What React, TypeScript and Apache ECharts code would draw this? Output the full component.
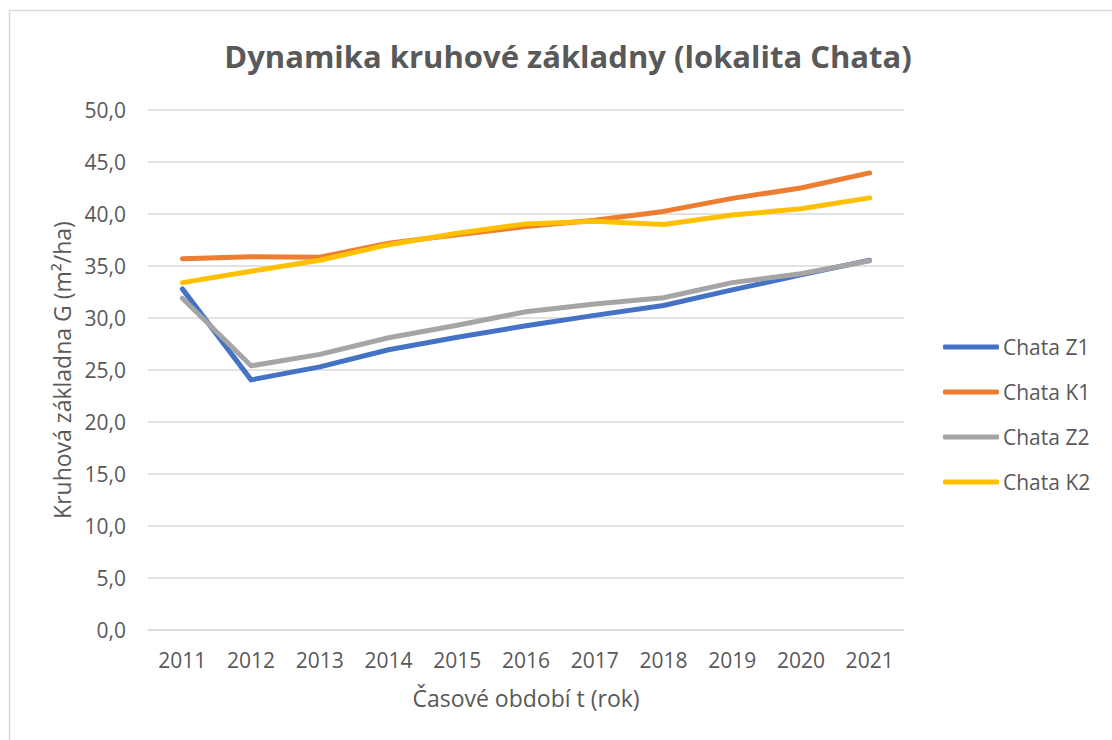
import React, { useEffect, useRef } from "react";
import * as echarts from "echarts";

const years = ["2011", "2012", "2013", "2014", "2015", "2016", "2017", "2018", "2019", "2020", "2021"];
const chataZ1 = [32.8, 24.05, 25.3, 26.95, 28.15, 29.25, 30.25, 31.2, 32.7, 34.15, 35.55];
const chataK1 = [35.7, 35.9, 35.85, 37.2, 38.0, 38.8, 39.4, 40.25, 41.5, 42.5, 43.95];
const chataZ2 = [31.9, 25.4, 26.5, 28.1, 29.3, 30.6, 31.35, 31.95, 33.4, 34.25, 35.5];
const chataK2 = [33.4, 34.5, 35.55, 37.05, 38.15, 39.05, 39.3, 39.0, 39.9, 40.5, 41.55];

const seriesNames = ["Chata Z1", "Chata K1", "Chata Z2", "Chata K2"];
const seriesColors = ["#4472C4", "#ED7D31", "#A5A5A5", "#FFC000"];
const seriesData = [chataZ1, chataK1, chataZ2, chataK2];

const titleText = "Dynamika kruhové základny (lokalita Chata)";
const yAxisName = "Kruhová základna G (m²/ha)";
const xAxisName = "Časové období t (rok)";

const FONT = "'Open Sans', 'Noto Sans', sans-serif";
const TEXT = "#595959";

export default function App() {
  const ref = useRef<HTMLDivElement>(null);
  useEffect(() => {
    if (!ref.current) return;
    const chart = echarts.init(ref.current, null, { renderer: "svg" });
    chart.setOption({
      animation: false,
      backgroundColor: "#ffffff",
      textStyle: { fontFamily: FONT, color: TEXT },
      title: {
        text: titleText,
        left: 563,
        textAlign: "center",
        top: 35,
        textStyle: { fontFamily: FONT, fontSize: 31, fontWeight: "bold", color: TEXT },
      },
      graphic: [
        {
          type: "rect",
          shape: { x: 9.5, y: 10.5, width: 1130, height: 760 },
          style: { fill: "none", stroke: "#d9d9d9", lineWidth: 1.5 },
          silent: true,
        },
      ],
      legend: {
        orient: "vertical",
        left: 943,
        top: 336,
        padding: 0,
        icon: "roundRect",
        itemWidth: 56,
        itemHeight: 5,
        itemGap: 23,
        textStyle: { fontFamily: FONT, fontSize: 21, color: TEXT, lineHeight: 22, padding: [0, 0, 0, -1] },
        data: seriesNames,
      },
      grid: { left: 148, right: 208, top: 110, bottom: 110, containLabel: false },
      xAxis: {
        type: "category",
        data: years,
        boundaryGap: true,
        axisLine: { show: true, lineStyle: { color: "#d9d9d9", width: 1.5 } },
        axisTick: { show: false },
        axisLabel: { fontFamily: FONT, fontSize: 21, color: TEXT, margin: 19 },
        name: xAxisName,
        nameLocation: "middle",
        nameGap: 56,
        nameTextStyle: { fontFamily: FONT, fontSize: 23, color: TEXT },
      },
      yAxis: {
        type: "value",
        min: 0,
        max: 50,
        interval: 5,
        axisLine: { show: false },
        axisTick: { show: false },
        splitLine: { lineStyle: { color: "#d9d9d9", width: 1.5 } },
        axisLabel: {
          fontFamily: FONT,
          fontSize: 21,
          color: TEXT,
          margin: 22,
          formatter: (v: number) => v.toFixed(1).replace(".", ","),
        },
        name: yAxisName,
        nameLocation: "middle",
        nameRotate: 90,
        nameGap: 75,
        nameTextStyle: { fontFamily: FONT, fontSize: 23, color: TEXT },
      },
      series: seriesNames.map((name, i) => ({
        name,
        type: "line",
        data: seriesData[i],
        symbol: "none",
        color: seriesColors[i],
        lineStyle: { width: 5, color: seriesColors[i], cap: "round", join: "round" },
        itemStyle: { color: seriesColors[i] },
        z: 2 + i,
      })),
    });
    return () => chart.dispose();
  }, []);
  return (
    <div
      ref={ref}
      style={{ position: "absolute", left: 0, top: 0, width: 1112, height: 740 }}
    />
  );
}
